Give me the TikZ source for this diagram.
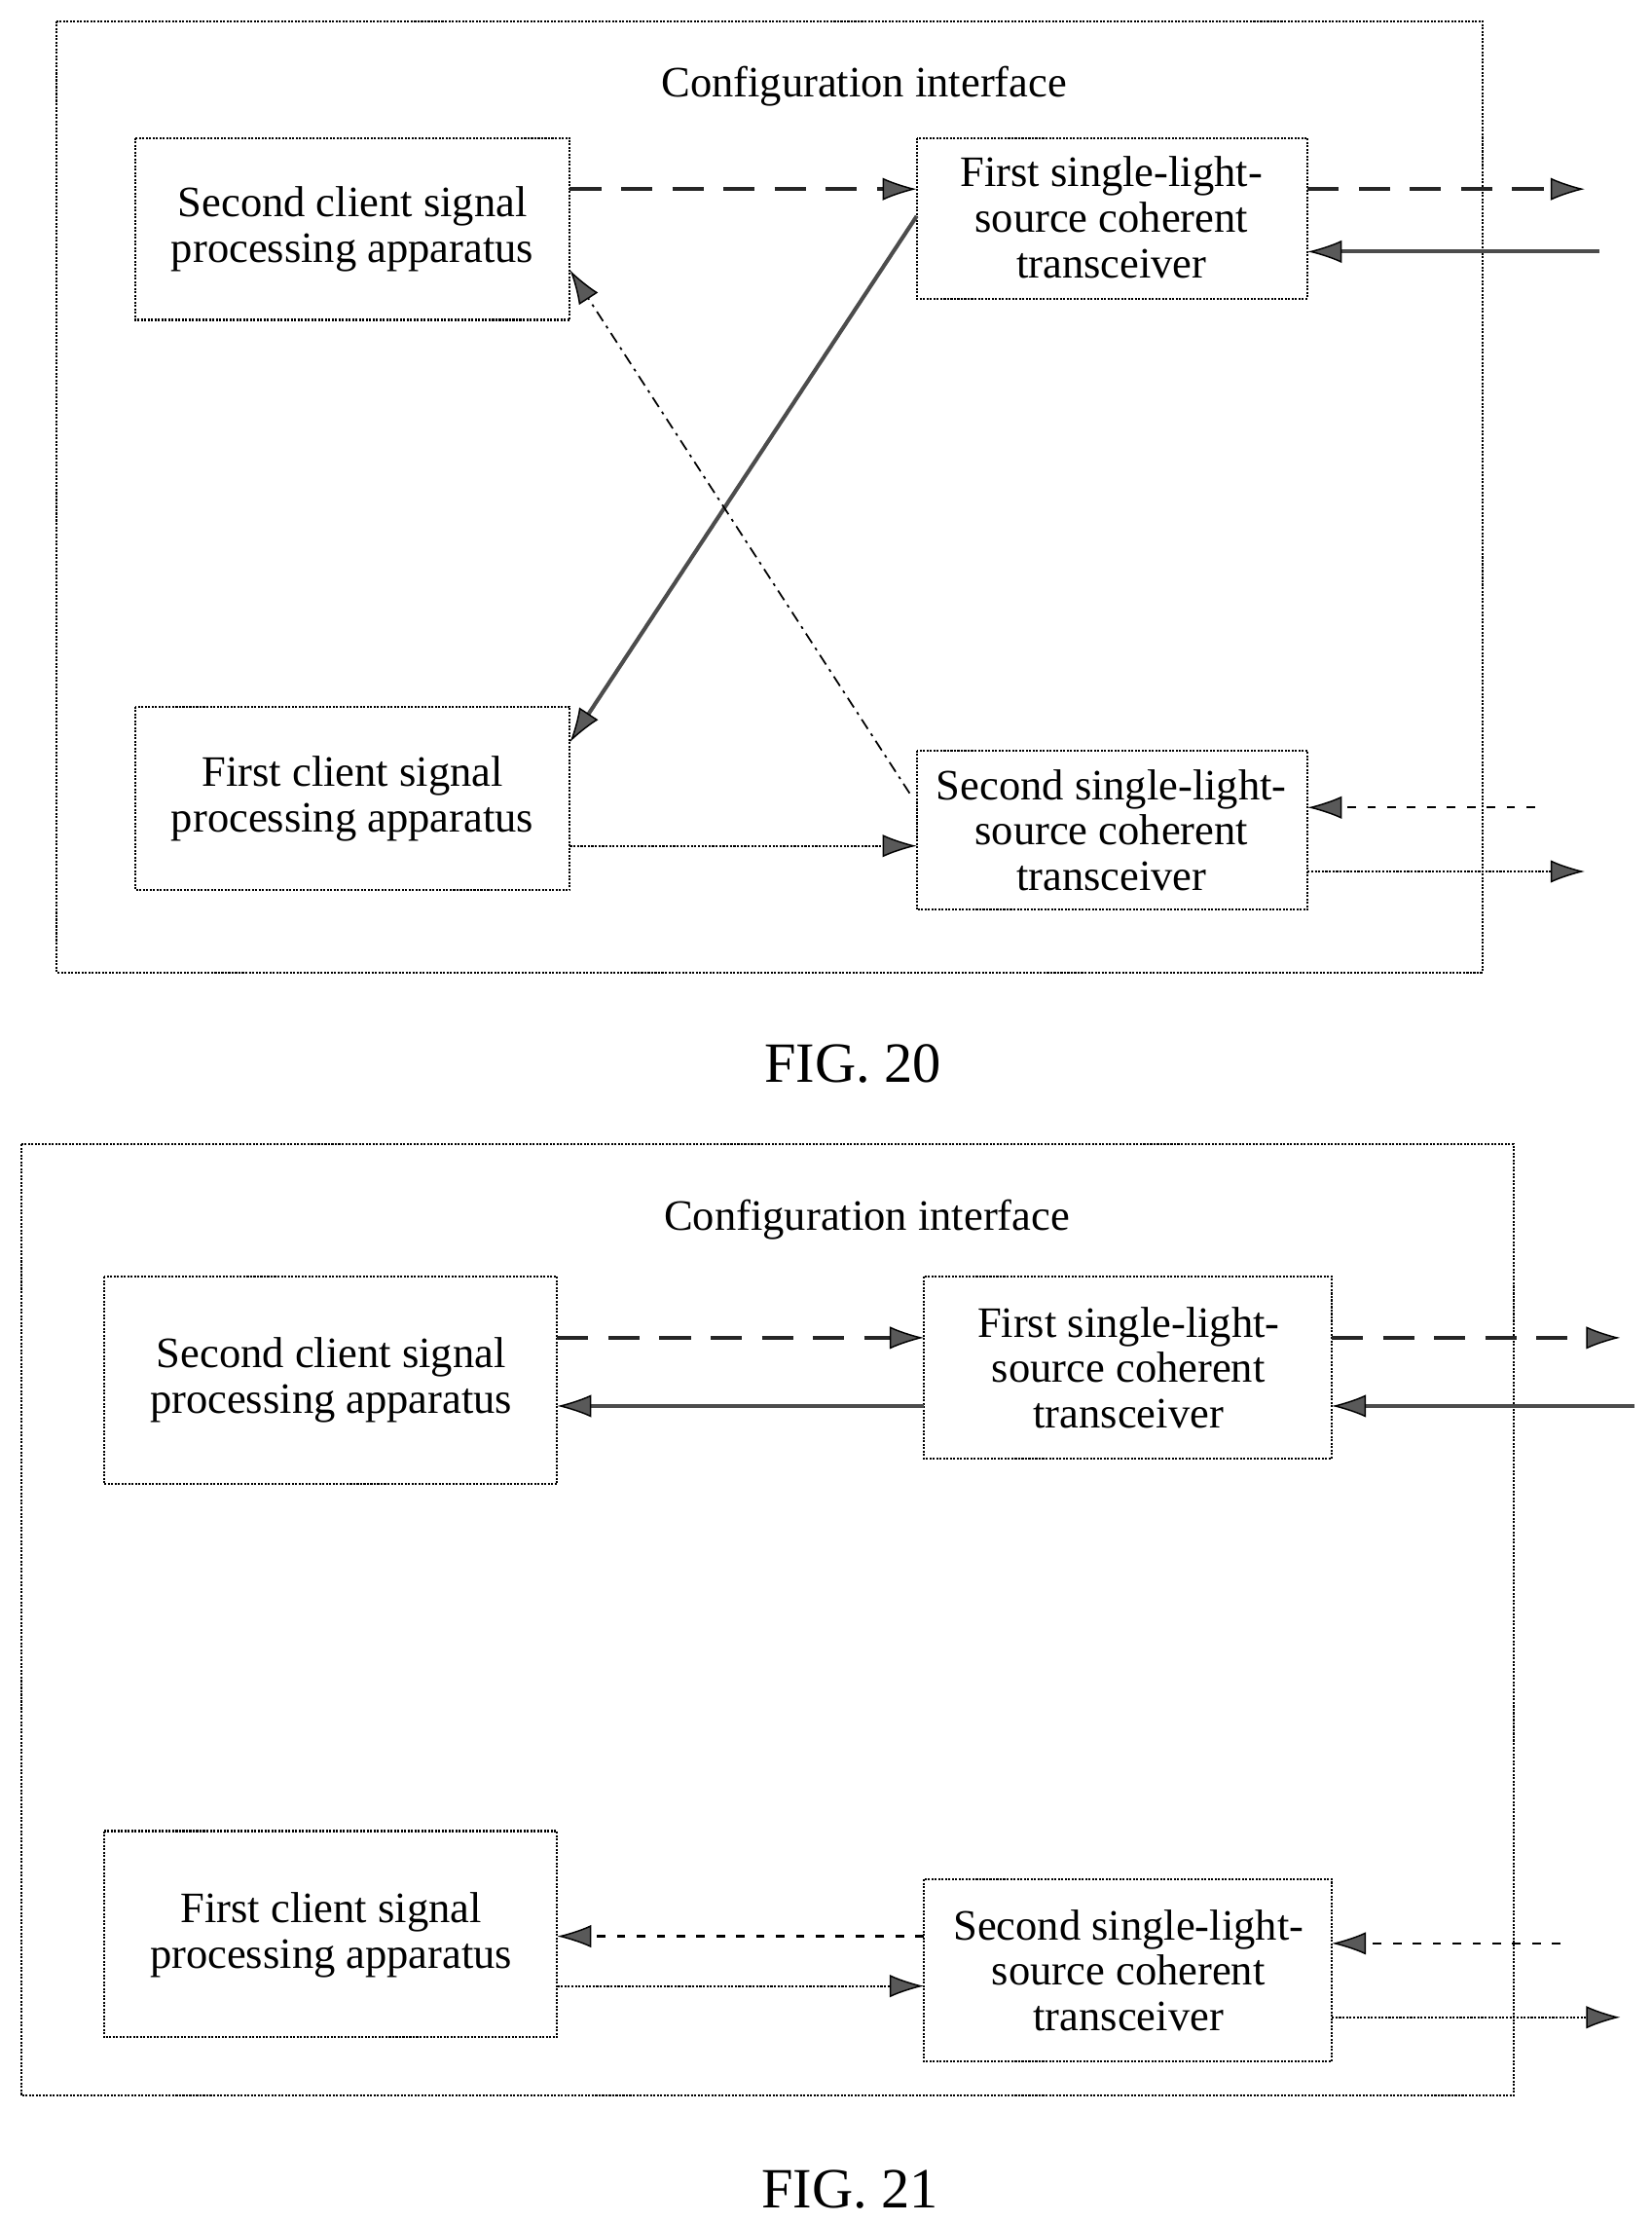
\documentclass[tikz,border=0pt]{standalone}
\usepackage{fontspec}
\setmainfont{Liberation Serif}
\usetikzlibrary{arrows.meta}
\begin{document}
\begin{tikzpicture}[x=1pt,y=-1pt,
  box/.style={draw, densely dotted, line width=1.4pt, inner sep=0pt},
  lbl/.style={align=center, font=\fontsize{30.5}{32}\selectfont},
  tip/.style={-{Latex[length=24pt,width=16pt,fill=gray!70!black,color=black,line width=1pt]}},
  ldash/.style={tip, line width=2.4pt, draw=black!85, dash pattern=on 22pt off 14pt},
  thk/.style={tip, line width=2.8pt, draw=gray!60!black},
  thn/.style={tip, line width=1.5pt, densely dotted},
  sdash/.style={tip, line width=1.2pt, dash pattern=on 8pt off 4pt on 2pt off 4pt},
  ddot/.style={tip, line width=1.5pt, dash pattern=on 6pt off 8pt}]
\useasboundingbox (0,0) rectangle (1162,1563);
% FIG 20
\draw[box] (40,15) rectangle (1043,684);
\node[lbl] (ci1) at (608,61) {Configuration interface};
\draw[box] (95,97) rectangle (401,225); \node[lbl] (sc1) at (248,161) {Second client signal\\processing apparatus};
\draw[box] (645,97) rectangle (920,210); \node[lbl] (ft1) at (782,153) {First single-light-\\source coherent\\transceiver};
\draw[box] (95,497) rectangle (401,626); \node[lbl] (fc1) at (248,562) {First client signal\\processing apparatus};
\draw[box] (645,528) rectangle (920,640); \node[lbl] (st1) at (782,584) {Second single-light-\\source coherent\\transceiver};
\coordinate (a1) at (401,133); \coordinate (a2) at (645,133);
\draw[ldash] (a1) -- (a2);
\coordinate (a3) at (920,133); \coordinate (a4) at (1115,133);
\draw[ldash] (a3) -- (a4);
\coordinate (a5) at (1125,177); \coordinate (a6) at (920,177);
\draw[thk] (a5) -- (a6);
\coordinate (a7) at (645,152); \coordinate (a8) at (401,522);
\draw[thk] (a7) -- (a8);
\coordinate (a9) at (640,558); \coordinate (a10) at (401,190);
\draw[sdash] (a9) -- (a10);
\coordinate (a11) at (401,595); \coordinate (a12) at (645,595);
\draw[thn] (a11) -- (a12);
\coordinate (a13) at (1080,568); \coordinate (a14) at (920,568);
\draw[ddot] (a13) -- (a14);
\coordinate (a15) at (920,613); \coordinate (a16) at (1115,613);
\draw[thn] (a15) -- (a16);
\node[lbl, font=\fontsize{40}{44}\selectfont] (f20) at (600,748) {FIG. 20};
% FIG 21
\draw[box] (15,805) rectangle (1065,1474);
\node[lbl] (ci2) at (610,858) {Configuration interface};
\draw[box] (73,898) rectangle (392,1044); \node[lbl] (sc2) at (233,971) {Second client signal\\processing apparatus};
\draw[box] (650,898) rectangle (937,1026); \node[lbl] (ft2) at (794,962) {First single-light-\\source coherent\\transceiver};
\draw[box] (73,1288) rectangle (392,1433); \node[lbl] (fc2) at (233,1361) {First client signal\\processing apparatus};
\draw[box] (650,1322) rectangle (937,1450); \node[lbl] (st2) at (794,1386) {Second single-light-\\source coherent\\transceiver};
\coordinate (b1) at (392,941); \coordinate (b2) at (650,941);
\draw[ldash] (b1) -- (b2);
\coordinate (b3) at (937,941); \coordinate (b4) at (1140,941);
\draw[ldash] (b3) -- (b4);
\coordinate (b5) at (650,989); \coordinate (b6) at (392,989);
\draw[thk] (b5) -- (b6);
\coordinate (b7) at (1150,989); \coordinate (b8) at (937,989);
\draw[thk] (b7) -- (b8);
\coordinate (b9) at (650,1362); \coordinate (b10) at (392,1362);
\draw[ddot] (b9) -- (b10);
\coordinate (b11) at (392,1397); \coordinate (b12) at (650,1397);
\draw[thn] (b11) -- (b12);
\coordinate (b13) at (1098,1367); \coordinate (b14) at (937,1367);
\draw[ddot] (b13) -- (b14);
\coordinate (b15) at (937,1419); \coordinate (b16) at (1140,1419);
\draw[thn] (b15) -- (b16);
\node[lbl, font=\fontsize{40}{44}\selectfont] (f21) at (598,1540) {FIG. 21};
\end{tikzpicture}
\end{document}
